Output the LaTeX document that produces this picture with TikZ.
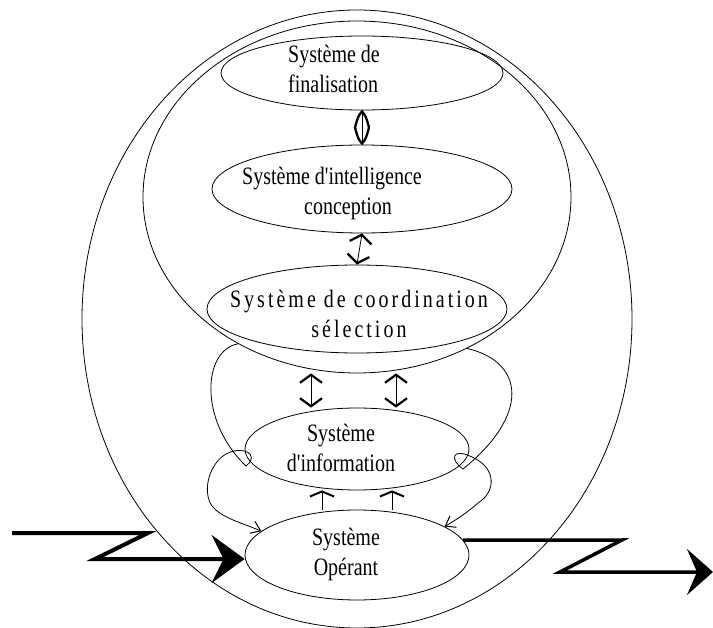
\documentclass[tikz,border=0pt]{standalone}
\usepackage{fontspec}
\setmainfont{Liberation Serif}
\newfontfamily\tnr{Liberation Serif}[FakeStretch=0.8]
\newfontfamily\tnrsp{Liberation Serif}[FakeStretch=0.8,LetterSpace=12]
\usetikzlibrary{arrows.meta,shapes.geometric,calc}
\begin{document}
\begin{tikzpicture}[x=1pt,y=-1pt,
  sys/.style={ellipse, draw, line width=0.8pt, inner sep=0pt},
  lbl/.style={font=\tnr\fontsize{25}{30}\selectfont, align=center, inner sep=0pt},
  diamondlink/.style={line width=2.3pt, line join=round},
  vbarb/.style={line width=0.8pt, {Straight Barb[length=8pt,width=22pt,line width=2.2pt]}-{Straight Barb[length=8pt,width=22pt,line width=2.2pt]}},
  upbarb/.style={line width=0.8pt, -{Straight Barb[length=5pt,width=24pt,line width=2pt]}},
  loop/.style={line width=0.8pt, -{Straight Barb[length=9pt,width=13pt,line width=1pt]}},
  bigarr/.style={line width=4pt, line join=miter, -{Stealth[length=33pt,width=48pt,inset=12pt]}},
  bigarrb/.style={line width=3.5pt, line join=miter, -{Stealth[length=26pt,width=46pt,inset=10pt]}}
]
\useasboundingbox (0,0) rectangle (713,628);

% enclosing ellipses
\node[sys, minimum width=550pt, minimum height=618pt] (outer) at (357,319) {};
\node[sys, minimum width=428pt, minimum height=352pt] (mid) at (357,197) {};

% subsystems
\node[sys, minimum width=282pt, minimum height=74pt] (fin) at (362,73) {};
\node[sys, minimum width=300pt, minimum height=88pt] (intel) at (362,189) {};
\node[sys, minimum width=300pt, minimum height=88pt] (coord) at (357,309) {};
\node[sys, minimum width=224pt, minimum height=82pt] (info) at (357,449) {};
\node[sys, minimum width=224pt, minimum height=90pt] (op) at (357,555) {};

% texts
\node[lbl, align=left] (finT) at (334,72) {\strut Système de\\\strut finalisation};
\node[lbl] (intT) at (332,194) {\strut Système d'intelligence\\\hspace*{32pt}\strut conception};
\node[lbl, font=\tnrsp\fontsize{25}{30}\selectfont] (coordT) at (359,317) {\strut Système de coordination\\\strut sélection};
\node[lbl] (infoT) at (341,451) {\strut Système\\\strut d'information};
\node[lbl] (opT) at (346,555) {\strut Système\\\strut Opérant};

% vertical links
\coordinate (dmid) at ($(fin.south)!0.5!(intel.north)$);
\draw[diamondlink] ([yshift=-1pt]fin.south) .. controls ([xshift=4pt,yshift=-6pt]fin.south) .. ([xshift=7pt]dmid)
  .. controls ([xshift=4pt,yshift=6pt]intel.north) .. ([yshift=1pt]intel.north)
  .. controls ([xshift=-4pt,yshift=6pt]intel.north) .. ([xshift=-7pt]dmid)
  .. controls ([xshift=-4pt,yshift=-6pt]fin.south) .. cycle;
\draw[line width=0.8pt] (fin.south) -- (intel.north);
\draw[vbarb] (intel.south) -- (coord.north);
\draw[vbarb] ([xshift=-46pt]mid.south) -- ([xshift=-46pt]info.north);
\draw[vbarb] ([xshift=39pt]mid.south) -- ([xshift=39pt]info.north);
\draw[upbarb] ([xshift=-35pt]op.north) -- ([xshift=-35pt]info.south);
\draw[upbarb] ([xshift=35pt]op.north) -- ([xshift=35pt]info.south);

% loops
\draw[loop] (mid.231) .. controls (203,350) and (198,420) .. (246,466)
  .. controls (257,458) and (250,448) .. (234,451)
  .. controls (214,455) and (203,482) .. (209,500)
  .. controls (214,516) and (240,522) .. (op.166);
\draw[loop] (mid.-54) .. controls (525,362) and (530,415) .. (463,469)
  .. controls (450,460) and (451,447) .. (472,457)
  .. controls (497,468) and (496,492) .. (478,503)
  .. controls (468,512) and (456,520) .. (op.18);

% big zigzag arrows
\coordinate (inL) at (12,533);
\coordinate (outR) at (713,572);
\draw[bigarr] (inL) -- (148,533) -- (95,559) -- ([yshift=-4pt]op.west);
\draw[bigarrb] (op.8) -- (622,540) -- (560,572) -- (outR);
\end{tikzpicture}
\end{document}
